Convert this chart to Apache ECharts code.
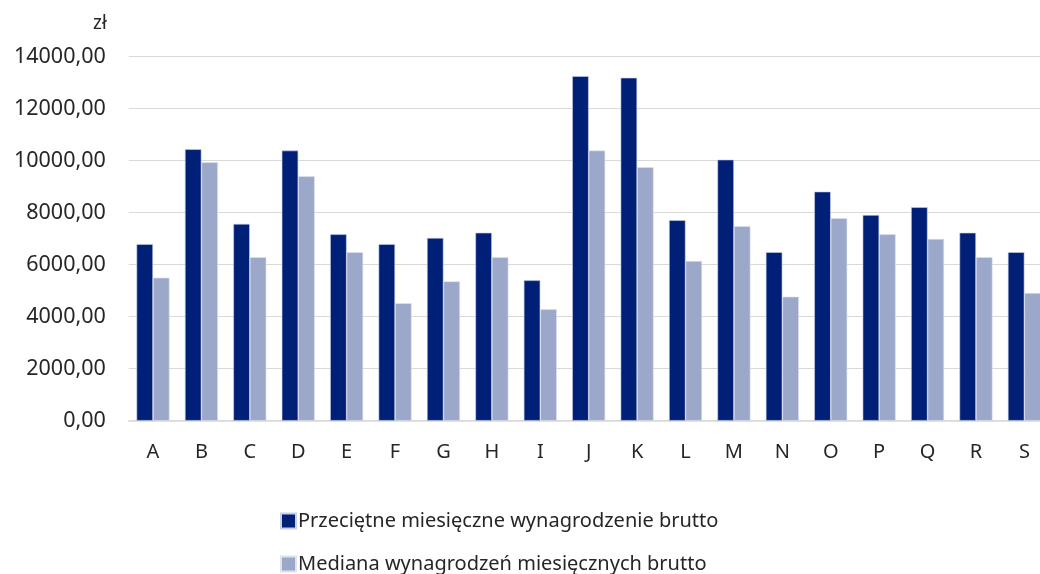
<!DOCTYPE html>
<html><head><meta charset="utf-8">
<script src="https://cdn.jsdelivr.net/npm/echarts@6/dist/echarts.min.js"></script>
<style>html,body{margin:0;padding:0;background:#fff}#c{width:1040px;height:574px}</style>
</head><body><div id="c"></div>
<script>
const categories = ['A','B','C','D','E','F','G','H','I','J','K','L','M','N','O','P','Q','R','S'];
const average = [6790,10440,7570,10390,7170,6790,7030,7230,5400,13250,13190,7710,10040,6480,8810,7910,8210,7230,6480];
const median = [5500,9940,6290,9400,6480,4520,5360,6290,4290,10390,9750,6140,7480,4770,7790,7170,6990,6290,4910];
const seriesNames = ['Przeciętne miesięczne wynagrodzenie brutto','Mediana wynagrodzeń miesięcznych brutto'];
const yTicks = {min:0, max:14000, interval:2000};
const unit = 'zł';

const font = '"Noto Sans", sans-serif';
const legendText = {fontFamily:font, fontSize:20, color:'#262626', padding:[0,0,0,-3]};
const chart = echarts.init(document.getElementById('c'), null, {renderer:'canvas'});
chart.setOption({
  animation:false,
  textStyle:{fontFamily:font},
  grid:{left:128.8, width:919.8, top:56.7, bottom:153.3, containLabel:false, outerBoundsMode:'none'},
  legend:[
    {left:275, top:506, itemWidth:15, itemHeight:15, icon:'rect', textStyle:legendText, data:[seriesNames[0]]},
    {left:275, top:549, itemWidth:15, itemHeight:15, icon:'rect', textStyle:legendText, data:[seriesNames[1]]}
  ],
  xAxis:{
    type:'category', data:categories,
    axisLine:{lineStyle:{color:'#d9d9d9', width:1.5}},
    axisTick:{show:false},
    axisLabel:{fontFamily:font, fontSize:20, color:'#262626', margin:22}
  },
  yAxis:{
    type:'value', min:yTicks.min, max:yTicks.max, interval:yTicks.interval,
    name:unit, nameLocation:'end', nameGap:24,
    nameTextStyle:{fontFamily:font, fontSize:19, color:'#262626', align:'right', padding:[0,22,0,0]},
    axisLine:{show:false}, axisTick:{show:false},
    splitLine:{lineStyle:{color:'#d9d9d9', width:1.2}},
    axisLabel:{fontFamily:font, fontSize:21.5, color:'#262626', margin:23,
      formatter:v=>v.toFixed(2).replace('.',',')}
  },
  series:[
    {name:seriesNames[0], type:'bar', data:average, barWidth:16.5, barGap:'0%',
     itemStyle:{color:'#001f77', borderColor:'#c9d0e6', borderWidth:0.6}},
    {name:seriesNames[1], type:'bar', data:median, barWidth:16.5,
     itemStyle:{color:'#9ca8ca', borderColor:'#dfe3ee', borderWidth:0.6}}
  ]
});
</script></body></html>
